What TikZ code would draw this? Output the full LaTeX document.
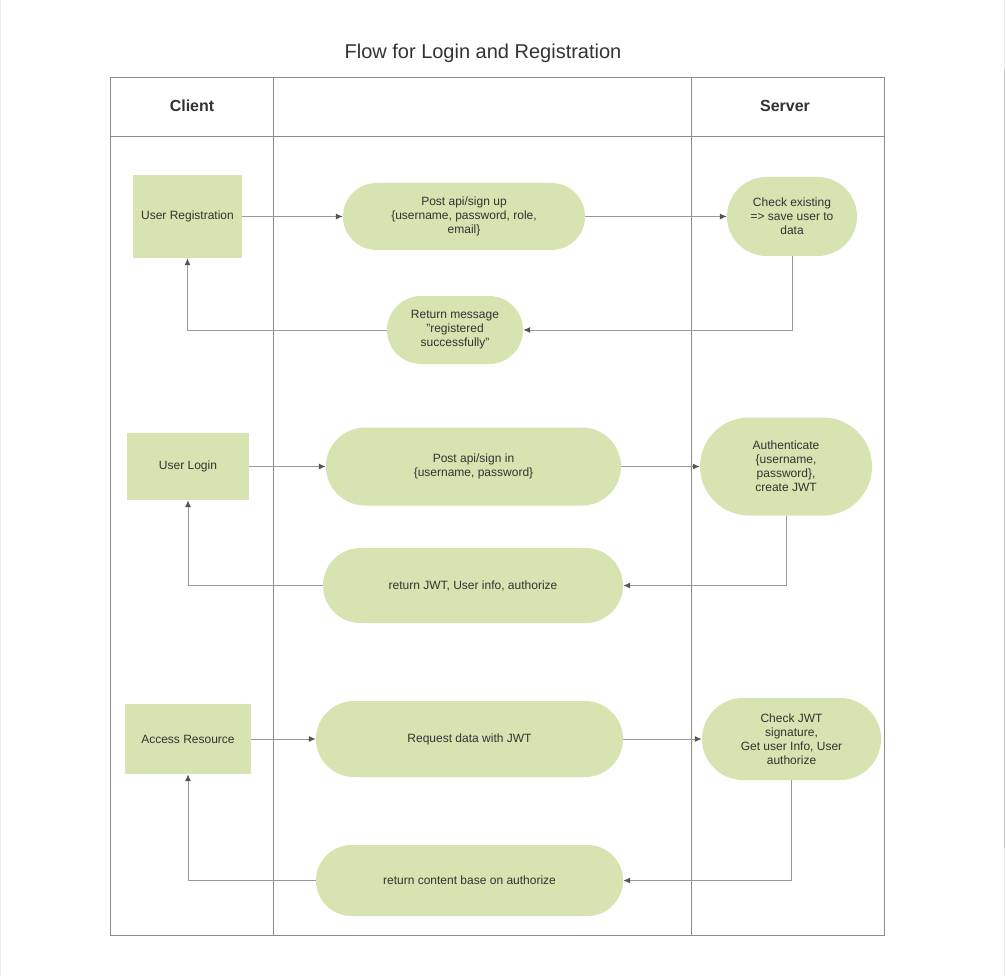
\documentclass[tikz,border=0pt]{standalone}
\usepackage{fontspec}
\setmainfont{Liberation Sans}
\usetikzlibrary{arrows.meta}
\definecolor{fillg}{HTML}{D7E3B0}
\definecolor{txt}{HTML}{333333}
\definecolor{lane}{HTML}{8C8C8C}
\definecolor{connc}{HTML}{9A9A9A}
\definecolor{tipc}{HTML}{555555}
\begin{document}
\begin{tikzpicture}[x=1pt,y=-1pt,
  box/.style={fill=fillg, draw=none, text=txt, font=\fontsize{12}{14}\selectfont, align=center, inner sep=0pt},
  conn/.style={draw=connc, line width=1pt, -{Latex[length=7pt,width=6pt,color=tipc]}},
  lanel/.style={draw=lane, line width=0.8pt},
  head/.style={text=txt, font=\fontsize{16}{19}\selectfont\bfseries}]
\useasboundingbox[fill=white] (0,0) rectangle (1006,976);
\draw[black!8, line width=1pt] (0.5,0) -- (0.5,976);
\draw[black!8, line width=1pt] (1004.5,0) -- (1004.5,976);
\draw[black!25, line width=1.5pt] (1004.5,70) -- (1004.5,848);
% title
\node[text=txt, font=\fontsize{20}{24}\selectfont] (title) at (483,53) {Flow for Login and Registration};
% pool
\draw[lanel] (110,77) rectangle (884,935);
\draw[lanel] (110,136) -- (884,136);
\draw[lanel] (273,77) -- (273,935);
\draw[lanel] (691,77) -- (691,935);
\node[head] (hc) at (192,106) {Client};
\node[head] (hs) at (785,106) {Server};
% registration
\node[box, minimum width=109, minimum height=83] (ur) at (187.5,216.5) {User Registration};
\node[box, minimum width=242, minimum height=67, rounded corners=33.5pt] (su) at (464,216.5) {Post api/sign up\\\{username, password, role,\\email\}};
\node[box, minimum width=130, minimum height=79, rounded corners=39.5pt] (ce) at (792,216.5) {Check existing\\=> save user to\\data};
\node[box, minimum width=136, minimum height=68, rounded corners=34pt] (rm) at (455,330) {Return message\\"registered\\successfully"};
% login
\node[box, minimum width=122, minimum height=67] (ul) at (188,466.5) {User Login};
\node[box, minimum width=295, minimum height=78, rounded corners=39pt] (si) at (473.5,466.5) {Post api/sign in\\\{username, password\}};
\node[box, minimum width=172, minimum height=98, rounded corners=49pt] (au) at (786,466.5) {Authenticate\\\{username,\\password\},\\create JWT};
\node[box, minimum width=300, minimum height=75, rounded corners=37.5pt] (rj) at (473,585.5) {return JWT, User info, authorize};
% access
\node[box, minimum width=126, minimum height=70] (ar) at (188,739) {Access Resource};
\node[box, minimum width=307, minimum height=76, rounded corners=38pt] (rd) at (469.5,739) {Request data with JWT};
\node[box, minimum width=179, minimum height=82, rounded corners=41pt] (cj) at (791.5,739) {Check JWT\\signature,\\Get user Info, User\\authorize};
\node[box, minimum width=307, minimum height=71, rounded corners=35.5pt] (rc) at (469.5,880.5) {return content base on authorize};
% connectors
\draw[conn] (ur.east) -- (su.west);
\draw[conn] (su.east) -- (ce.west);
\draw[conn] (ce.south) |- (rm.east);
\draw[conn] (rm.west) -| (ur.south);
\draw[conn] (ul.east) -- (si.west);
\draw[conn] (si.east) -- (au.west);
\draw[conn] (au.south) |- (rj.east);
\draw[conn] (rj.west) -| (ul.south);
\draw[conn] (ar.east) -- (rd.west);
\draw[conn] (rd.east) -- (cj.west);
\draw[conn] (cj.south) |- (rc.east);
\draw[conn] (rc.west) -| (ar.south);
\end{tikzpicture}
\end{document}
